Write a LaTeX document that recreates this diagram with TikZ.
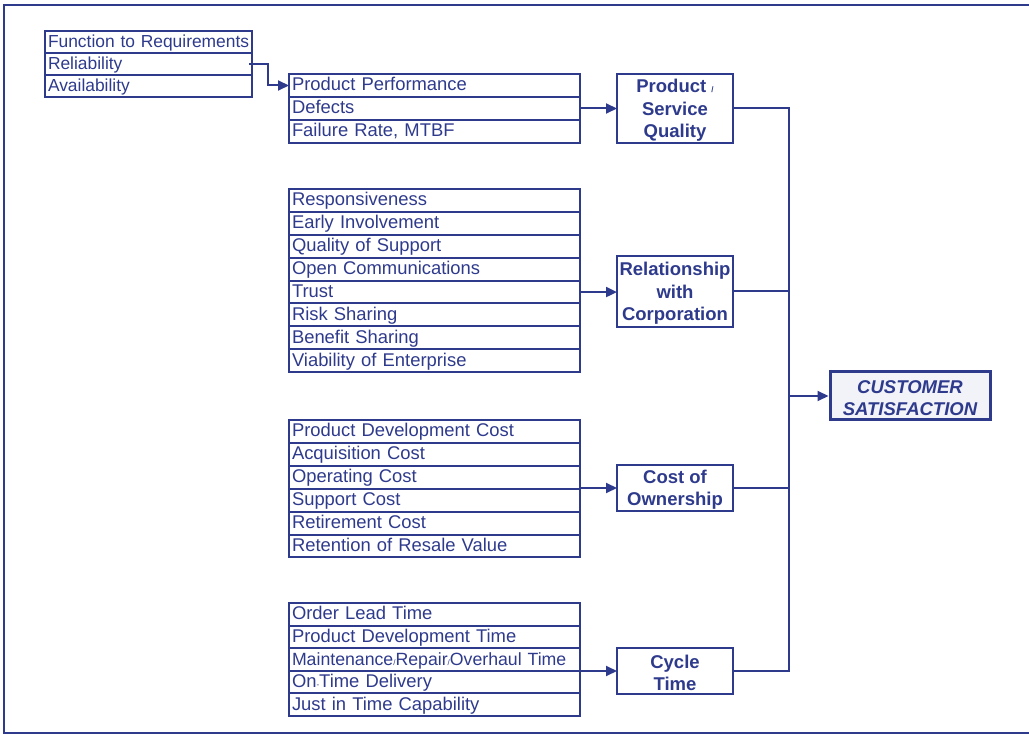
\documentclass[tikz,border=0pt]{standalone}
\usepackage{fontspec}
\setmainfont{Liberation Sans}
\usetikzlibrary{arrows.meta,calc}
\definecolor{navy}{RGB}{46,58,140}
\definecolor{csfill}{RGB}{242,243,249}
\newcommand{\sm}[1]{{\fontsize{8}{8}\selectfont #1}}
\newcommand{\tallstrut}{\rule{0pt}{17pt}}

\begin{document}
\begin{tikzpicture}[x=1pt,y=-1pt,
  item/.style 2 args={draw=navy, line width=2pt, text=navy, anchor=north west,
    align=left, inner xsep=3pt, inner ysep=0pt, outer sep=0pt,
    text height=14pt, text depth=3pt, font=\fontsize{18.4}{20}\selectfont,
    text width=#1, minimum height=#2},
  small/.style={font=\fontsize{17.4}{20}\selectfont},
  group/.style 2 args={draw=navy, line width=2pt, text=navy, align=center,
    inner sep=0pt, outer sep=0pt, minimum width=116pt, minimum height=#2,
    font=\fontsize{18.5}{22.5}\selectfont\bfseries},
  conn/.style={draw=navy, line width=2pt},
  arrow/.style={conn, -{Triangle[length=11pt,width=10pt]}},
]
\useasboundingbox (0,0) rectangle (1029,735);

% frame (open on the right)
\draw[navy, line width=2.4pt] (1035,5) -- (4,5) -- (4,733) -- (1035,733);

% function requirements
\node[item={201pt}{22pt}, small] (f1) at (45,31) {\mbox{Function to Requirements}};
\node[item={201pt}{22pt}, small] (f2) at (f1.south west) {Reliability};
\node[item={201pt}{22pt}, small] (f3) at (f2.south west) {Availability};

% product performance
\node[item={285pt}{23pt}] (p1) at (289,74) {Product Performance};
\node[item={285pt}{23pt}] (p2) at (p1.south west) {Defects};
\node[item={285pt}{23pt}] (p3) at (p2.south west) {Failure Rate, MTBF};

% relationship factors
\node[item={285pt}{22.9pt}] (r1) at (289,189) {Responsiveness};
\node[item={285pt}{22.9pt}] (r2) at (r1.south west) {Early Involvement};
\node[item={285pt}{22.9pt}] (r3) at (r2.south west) {Quality of Support};
\node[item={285pt}{22.9pt}] (r4) at (r3.south west) {Open Communications};
\node[item={285pt}{22.9pt}] (r5) at (r4.south west) {Trust};
\node[item={285pt}{22.9pt}] (r6) at (r5.south west) {Risk Sharing};
\node[item={285pt}{22.9pt}] (r7) at (r6.south west) {Benefit Sharing};
\node[item={285pt}{22.9pt}] (r8) at (r7.south west) {Viability of Enterprise};

% cost factors
\node[item={285pt}{22.9pt}] (c1) at (289,420) {Product Development Cost};
\node[item={285pt}{22.9pt}] (c2) at (c1.south west) {Acquisition Cost};
\node[item={285pt}{22.9pt}] (c3) at (c2.south west) {Operating Cost};
\node[item={285pt}{22.9pt}] (c4) at (c3.south west) {Support Cost};
\node[item={285pt}{22.9pt}] (c5) at (c4.south west) {Retirement Cost};
\node[item={285pt}{22.9pt}] (c6) at (c5.south west) {Retention of Resale Value};

% time factors
\node[item={285pt}{22.6pt}] (t1) at (289,603) {Order Lead Time};
\node[item={285pt}{22.6pt}] (t2) at (t1.south west) {Product Development Time};
\node[item={285pt}{22.6pt}, font=\fontsize{17.7}{20}\selectfont] (t3) at (t2.south west) {Maintenance\sm{/}Repair\sm{/}Overhaul Time};
\node[item={285pt}{22.6pt}] (t4) at (t3.south west) {On\sm{-}Time Delivery};
\node[item={285pt}{22.6pt}] (t5) at (t4.south west) {Just in Time Capability};

% category boxes
\node[group={116pt}{69pt}] (psq) at (675,108.5) {\tallstrut Product \sm{/}\\Service\\Quality};
\node[group={116pt}{71pt}] (rel) at (675,291.5) {\tallstrut Relationship\\with\\Corporation};
\node[group={116pt}{46pt}] (cost) at (675,488) {\tallstrut Cost of\\Ownership};
\node[group={116pt}{46pt}] (cyc) at (675,671) {\tallstrut Cycle\\Time};

% result
\node[draw=navy, line width=3pt, fill=csfill, text=navy, align=center,
  inner sep=0pt, minimum width=160pt, minimum height=48pt,
  font=\fontsize{18.5}{22.5}\selectfont\bfseries\itshape] (cs) at (910,396)
  {\tallstrut CUSTOMER\\SATISFACTION};

\coordinate (bus) at (789,0);

% feeding arrows
\draw[arrow] ([xshift=-3pt]f2.east) -- ++(19,0) |- (p1.west);
\draw[arrow] (p2.east) -- (p2.east -| psq.west);
\draw[arrow] (r5.east) -- (r5.east -| rel.west);
\draw[arrow] (cost.west -| c3.east) -- (cost.west);
\draw[arrow] (cyc.west -| t3.east) -- (cyc.west);

% collecting bus
\draw[conn] (psq.east) -- (psq.east -| bus) -- (cyc.east -| bus) -- (cyc.east);
\draw[conn] (rel.east) -- (rel.east -| bus);
\draw[conn] (cost.east) -- (cost.east -| bus);
\draw[arrow] (cs.west -| bus) -- (cs.west);
\end{tikzpicture}
\end{document}
